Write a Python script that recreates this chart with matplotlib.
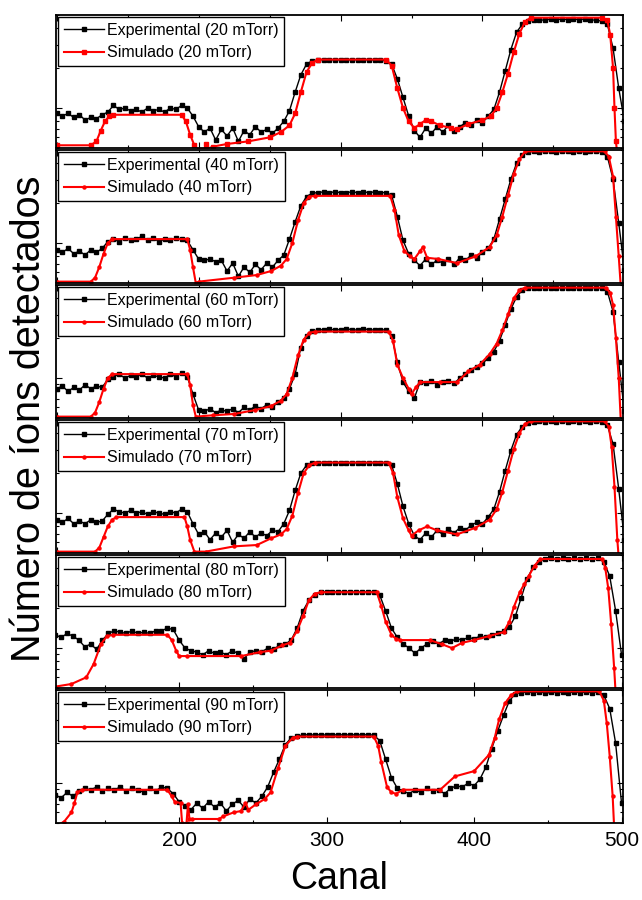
import numpy as np
import matplotlib
matplotlib.use('Agg')
import matplotlib.pyplot as plt
from matplotlib.ticker import MultipleLocator, LogLocator, NullFormatter

plt.rcParams['font.family'] = ['Liberation Sans', 'DejaVu Sans']

pressures = [20, 40, 60, 70, 80, 90]

# experimental spectra, one count every 4 channels
ch_a = np.arange(100, 501, 4)   # 20-70 mTorr runs
ch_b = np.arange(116, 501, 4)   # 80-90 mTorr runs

exp_20 = [910, 869, 910, 849, 889, 811, 849, 830, 889, 931, 1045, 975, 998, 953, 975, 931, 998, 953, 975, 931,
          998, 975, 1045, 998, 869, 723, 659, 706, 574, 690, 615, 706, 561, 675, 629, 723, 659, 690, 644, 706,
          792, 953, 1315, 1774, 2133, 2260, 2286, 2312, 2286, 2312, 2286, 2312, 2286, 2312, 2286, 2312, 2286, 2286, 2260, 2133,
          1656, 1199, 869, 675, 601, 706, 644, 723, 659, 740, 675, 723, 774, 740, 811, 774, 869, 975, 1315, 1901,
          2748, 3707, 4256, 4508, 4560, 4613, 4560, 4667, 4613, 4667, 4613, 4667, 4613, 4667, 4613, 4560, 4508, 4256, 2812, 1409,
          792]
exp_40 = [889, 849, 910, 830, 869, 811, 889, 849, 910, 1021, 1069, 1021, 1094, 1045, 1069, 1120, 1045, 1094, 1021, 1069,
          1045, 1094, 1069, 1045, 889, 757, 740, 757, 723, 740, 615, 706, 561, 659, 601, 690, 629, 706, 659, 740,
          811, 1069, 1442, 1901, 2233, 2365, 2393, 2420, 2393, 2420, 2393, 2393, 2420, 2393, 2420, 2393, 2420, 2393, 2393, 2286,
          1581, 1045, 830, 740, 675, 757, 690, 740, 706, 757, 690, 774, 740, 811, 774, 849, 910, 1069, 1510, 2133,
          3013, 3972, 4560, 4830, 4886, 4830, 4886, 4886, 4830, 4886, 4886, 4830, 4886, 4830, 4886, 4886, 4830, 4457, 3013, 1409,
          629]
exp_60 = [830, 869, 792, 849, 811, 889, 830, 869, 849, 975, 1021, 1069, 998, 1045, 1021, 1069, 998, 1045, 1021, 998,
          1069, 1021, 1094, 1021, 757, 574, 561, 587, 548, 574, 561, 587, 548, 601, 574, 615, 587, 629, 601, 659,
          706, 830, 1069, 1694, 2085, 2260, 2286, 2312, 2339, 2286, 2312, 2339, 2312, 2286, 2339, 2312, 2286, 2312, 2286, 2085,
          1315, 931, 792, 706, 931, 910, 953, 889, 931, 953, 910, 998, 1069, 1146, 1199, 1285, 1409, 1581, 1901, 2506,
          3300, 4064, 4560, 4720, 4775, 4720, 4775, 4775, 4720, 4775, 4775, 4720, 4775, 4720, 4775, 4775, 4720, 4457, 3155, 1315,
          561]
exp_70 = [889, 849, 910, 830, 869, 830, 889, 849, 869, 975, 1069, 1021, 998, 1045, 998, 1021, 975, 1021, 998, 975,
          1021, 998, 1069, 1021, 830, 690, 723, 629, 706, 659, 740, 601, 690, 644, 723, 659, 706, 675, 740, 723,
          830, 1045, 1476, 1991, 2286, 2365, 2393, 2365, 2393, 2393, 2365, 2393, 2365, 2393, 2393, 2365, 2393, 2365, 2393, 2286,
          1656, 1120, 830, 675, 629, 706, 659, 740, 690, 757, 706, 774, 740, 811, 849, 830, 931, 1069, 1442, 2085,
          2944, 3882, 4457, 4775, 4830, 4886, 4830, 4886, 4830, 4886, 4830, 4886, 4830, 4886, 4830, 4886, 4830, 4560, 3300, 1510,
          629]
exp_80 = [1256, 1199, 1285, 1227, 1146, 1021, 1069, 975, 1146, 1285, 1346, 1315, 1285, 1346, 1285, 1315, 1285, 1346, 1346, 1409,
          1377, 1146, 998, 953, 931, 889, 953, 910, 931, 889, 953, 910, 830, 931, 953, 931, 998, 975, 1045, 1069,
          1146, 1409, 1901, 2286, 2506, 2624, 2655, 2624, 2655, 2624, 2655, 2624, 2655, 2624, 2655, 2506, 1901, 1409, 1199, 1069,
          998, 910, 998, 1069, 1120, 1069, 1146, 1120, 1172, 1146, 1199, 1172, 1227, 1199, 1256, 1285, 1346, 1442, 1733, 2393,
          3300, 4064, 4457, 4667, 4720, 4667, 4720, 4667, 4720, 4667, 4720, 4667, 4720, 4457, 3459, 1901, 889]
exp_90 = [811, 774, 849, 792, 869, 910, 889, 931, 869, 910, 889, 931, 869, 910, 889, 849, 910, 869, 931, 910,
          830, 723, 675, 629, 706, 644, 723, 659, 706, 615, 690, 740, 659, 757, 706, 792, 931, 1199, 1510, 1945,
          2183, 2260, 2286, 2312, 2286, 2312, 2286, 2312, 2286, 2312, 2286, 2312, 2286, 2312, 2286, 2085, 1510, 1094, 910, 869,
          830, 889, 849, 910, 869, 889, 830, 910, 953, 931, 998, 953, 1069, 1315, 1816, 2450, 3228, 4160, 4667, 4775,
          4830, 4775, 4830, 4775, 4830, 4775, 4830, 4775, 4830, 4775, 4830, 4775, 4830, 4560, 3622, 1991, 706]

# simulated spectra
sim_ch_20 = [100, 124, 128, 131, 134, 137, 140, 188, 191, 194, 197, 200, 204, 205, 206, 210, 220, 235, 250, 258,
             264, 268, 272, 276, 280, 284, 332, 336, 340, 344, 348, 352, 356, 360, 364, 370, 378, 382, 390, 400,
             406, 410, 414, 418, 422, 426, 430, 434, 484, 488, 490, 492, 493, 494, 495]
sim_20 = [524, 524, 561, 675, 792, 869, 889, 889, 792, 629, 524, 480, 480, 540, 490, 512, 536, 561, 601, 659,
          740, 910, 1315, 1858, 2183, 2312, 2312, 2085, 1409, 998, 792, 706, 757, 811, 792, 740, 706, 690, 757, 811,
          869, 998, 1315, 1816, 2624, 3622, 4457, 4775, 4775, 4560, 3540, 1991, 998, 561, 450]
sim_ch_40 = [100, 124, 127, 130, 133, 136, 139, 192, 194, 196, 198, 200, 225, 241, 251, 258, 262, 266, 270, 274,
             278, 282, 335, 338, 341, 345, 349, 352, 356, 358, 361, 369, 382, 395, 405, 410, 414, 418, 422, 426,
             430, 486, 489, 492, 494, 496, 497.5]
sim_40 = [512, 512, 548, 659, 830, 998, 1069, 1069, 889, 659, 500, 512, 548, 574, 615, 675, 757, 998, 1476, 1991,
          2233, 2260, 2260, 1774, 1146, 869, 792, 757, 869, 931, 774, 757, 706, 792, 931, 1146, 1581, 2286, 3300, 4256,
          4886, 4886, 4457, 3155, 1581, 792, 460]
sim_ch_60 = [100, 124, 127, 130, 133, 136, 139, 192, 194, 196, 198, 210, 225, 240, 251, 258, 262, 266, 270, 274,
             278, 282, 334, 337, 340, 344, 348, 350, 353, 356, 370, 382, 390, 398, 405, 410, 414, 418, 422, 426,
             430, 487, 490, 492, 494, 496, 497.5]
sim_60 = [512, 512, 548, 659, 830, 998, 1069, 1069, 889, 629, 512, 524, 536, 574, 615, 675, 757, 998, 1476, 1945,
          2183, 2233, 2233, 1901, 1256, 998, 830, 757, 849, 931, 931, 931, 1120, 1256, 1510, 1816, 2286, 3013, 3972, 4560,
          4775, 4775, 4355, 3540, 1991, 998, 460]
sim_ch_70 = [100, 127, 130, 133, 136, 139, 142, 190, 192, 194, 197, 205, 225, 241, 251, 258, 262, 266, 270, 274,
             278, 282, 334, 337, 340, 344, 348, 350, 355, 361, 368, 382, 395, 405, 410, 414, 418, 422, 426, 430,
             434, 486, 489, 491, 493, 495, 496]
sim_70 = [512, 512, 548, 659, 792, 889, 931, 931, 792, 629, 512, 512, 561, 574, 644, 690, 757, 953, 1409, 1991,
          2286, 2393, 2393, 1991, 1315, 910, 740, 675, 740, 792, 740, 690, 774, 889, 1069, 1442, 2085, 3013, 3972, 4667,
          4886, 4886, 4457, 3155, 1581, 629, 460]
sim_ch_80 = [116, 127, 137, 142, 147, 151, 155, 192, 195, 198, 200, 205, 242, 255, 262, 270, 275, 280, 284, 288,
             292, 296, 334, 337, 340, 344, 347, 350, 370, 378, 385, 392, 400, 410, 420, 424, 427, 431, 434, 437,
             441, 445, 487, 489, 491, 493, 495, 496]
sim_80 = [512, 536, 601, 757, 1069, 1227, 1256, 1256, 1146, 953, 869, 869, 869, 931, 953, 1045, 1094, 1346, 1733, 2286,
          2564, 2624, 2624, 2085, 1581, 1256, 1172, 1146, 1146, 1069, 998, 1094, 1146, 1227, 1315, 1581, 2037, 2624, 3013, 3459,
          4160, 4667, 4667, 3972, 2812, 1510, 706, 460]
sim_ch_90 = [116, 122, 127, 129, 131, 134, 192, 195, 197, 201, 202, 205, 206, 207, 209, 227, 230, 237, 242, 245,
             247, 252, 258, 262, 267, 272, 277, 280, 332, 335, 337, 341, 344, 347, 352, 377, 387, 400, 410, 414,
             417, 421, 425, 429, 485, 488, 490, 492, 494, 495]
sim_90 = [470, 512, 601, 706, 849, 889, 889, 792, 723, 706, 500, 500, 690, 536, 536, 536, 561, 601, 615, 706,
          629, 690, 757, 849, 1285, 1901, 2183, 2233, 2233, 1901, 1442, 931, 849, 830, 889, 889, 1120, 1227, 1624, 2183,
          3013, 3972, 4560, 4886, 4886, 4160, 2812, 1581, 792, 460]

exp_ch = [ch_a, ch_a, ch_a, ch_a, ch_b, ch_b]
exp_counts = [exp_20, exp_40, exp_60, exp_70, exp_80, exp_90]
sim_ch = [sim_ch_20, sim_ch_40, sim_ch_60, sim_ch_70, sim_ch_80, sim_ch_90]
sim_counts = [sim_20, sim_40, sim_60, sim_70, sim_80, sim_90]
xlims = [(99.5, 499), (99.5, 499), (99.5, 499), (99.5, 499), (116.5, 501), (116.5, 501)]
sim_markers = ['s', 'o', 'o', 'o', 'o', 'o']

fig = plt.figure(figsize=(6.42, 9.0), dpi=100)
left, right = 56 / 642, 623 / 642
top, bottom = 1 - 15 / 900, 1 - 823 / 900
gap = 2 / 900
h = (top - bottom - 5 * gap) / 6

for i, p in enumerate(pressures):
    y0 = top - (i + 1) * h - i * gap
    ax = fig.add_axes([left, y0, right - left, h])
    ax.plot(exp_ch[i], exp_counts[i], color='black', lw=1.0, marker='s', ms=2.2,
            label='Experimental (%d mTorr)' % p)
    ax.plot(sim_ch[i], sim_counts[i], color='red', lw=1.5, marker=sim_markers[i], ms=2.2,
            label='Simulado (%d mTorr)' % p)
    ax.set_yscale('log')
    ax.set_ylim(500, 5000)
    ax.set_xlim(*xlims[i])
    ax.xaxis.set_major_locator(MultipleLocator(100))
    ax.xaxis.set_minor_locator(MultipleLocator(50))
    ax.yaxis.set_major_locator(LogLocator(base=10))
    ax.yaxis.set_minor_locator(LogLocator(base=10, subs=np.arange(2, 10)))
    ax.yaxis.set_major_formatter(NullFormatter())
    ax.yaxis.set_minor_formatter(NullFormatter())
    ax.tick_params(which='both', direction='in', top=True, right=True, width=0.8)
    ax.tick_params(which='major', length=4)
    ax.tick_params(which='minor', length=2)
    for s in ax.spines.values():
        s.set_linewidth(1.3)
    if i < 5:
        ax.set_xticklabels([])
    else:
        ax.tick_params(axis='x', labelsize=15, pad=6)
        ax.set_xlabel('Canal', fontsize=27, labelpad=8)
    leg = ax.legend(loc='upper left', fontsize=11.5, frameon=True, fancybox=False,
                    edgecolor='black', framealpha=1, borderaxespad=0.15, borderpad=0.35,
                    handlelength=2.5, handletextpad=0.2, labelspacing=0.45)
    leg.get_frame().set_linewidth(1.0)

fig.text(0.045, (top + bottom) / 2, 'Número de íons detectados', rotation=90, fontsize=28.5,
         ha='center', va='center')

fig.savefig('out.png', dpi=100)
